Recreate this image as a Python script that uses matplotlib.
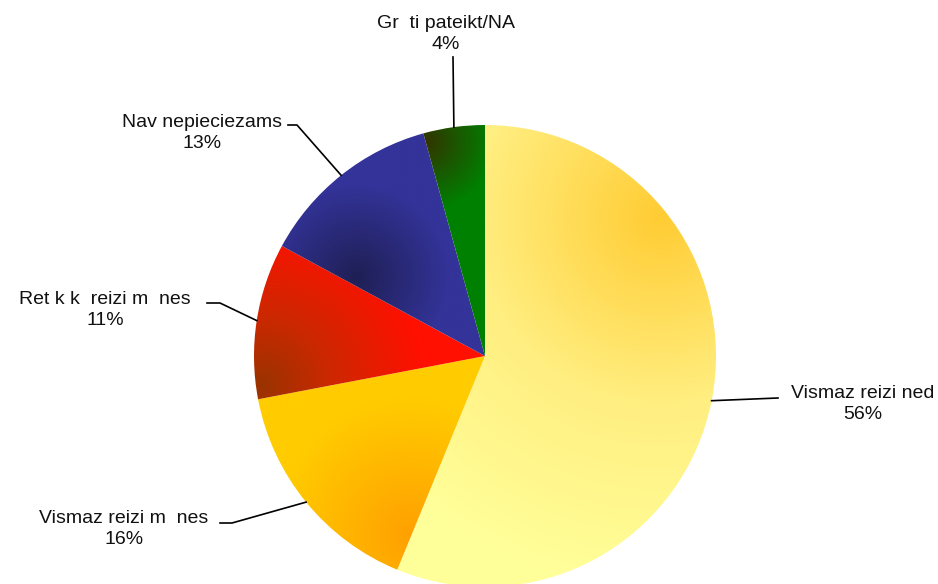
import numpy as np
import matplotlib
matplotlib.use("Agg")
from matplotlib import pyplot as plt
from matplotlib.colors import to_rgb

# data (share of answers, %)
labels = ["Vismaz reizi ned", "Vismaz reizi m  nes", "Ret k k  reizi m  nes",
          "Nav nepieciezams", "Gr  ti pateikt/NA"]
values = [56.2, 15.8, 10.9, 12.8, 4.3]
pct_text = ["56%", "16%", "11%", "13%", "4%"]

# label placement in pixels (x, y of first line from top)
label_pos = [(863, 392), (124, 517), (105, 298), (202, 121), (446, 22)]
# elbow of leader line (pixel x, y from top)
leader_elbow = [[(778, 398)], [(220, 523), (232, 523)], [(207, 303), (220, 303)],
                [(288, 125), (297, 125)], [(453, 57)]]

# gradient per slice: centre (pie units), stops as (dist, colour)
grads = [
    ((0.76, 0.60), [(0.0, "#FFCC33"), (0.8, "#FFEE80"), (1.6, "#FFFF99")]),
    ((-0.32, -0.78), [(0.0, "#FFA000"), (0.6, "#FFCC00")]),
    ((-0.97, -0.13), [(0.0, "#993300"), (0.3, "#CC2800"), (0.7, "#FF1000")]),
    ((-0.555, 0.342), [(0.0, "#1F1F55"), (0.4, "#333399")]),
    ((-0.26, 0.93), [(0.0, "#333300"), (0.3, "#008000")]),
]

W, H = 938, 584
cx, cy, R = 485, H - 356, 231

fig = plt.figure(figsize=(W / 100, H / 100), dpi=100)
ax = fig.add_axes([0, 0, 1, 1])
plt.rcParams['font.family'] = ['Liberation Sans', 'DejaVu Sans']

wedges, _ = ax.pie(values, radius=R, center=(cx, cy), startangle=90,
                   counterclock=False, wedgeprops=dict(linewidth=0))

n = 500
xs = np.linspace(-1.02, 1.02, n)
X, Y = np.meshgrid(xs, xs[::-1])
for w, (c, stops) in zip(wedges, grads):
    w.set_facecolor("none")
    d = np.hypot(X - c[0], Y - c[1])
    pos = [s[0] for s in stops]
    cols = np.array([to_rgb(s[1]) for s in stops])
    img = np.dstack([np.interp(d, pos, cols[:, k]) for k in range(3)])
    im = ax.imshow(img, extent=(cx - 1.02 * R, cx + 1.02 * R, cy - 1.02 * R, cy + 1.02 * R),
                   interpolation="bilinear", zorder=1)
    im.set_clip_path(w)

for w, lab, pc, (tx, ty), elbow in zip(wedges, labels, pct_text, label_pos, leader_elbow):
    mid = np.deg2rad((w.theta1 + w.theta2) / 2)
    ex, ey = cx + R * np.cos(mid), cy + R * np.sin(mid)
    pts = [(ex, ey)] + [(px, H - py) for px, py in elbow[::-1]]
    ax.plot([p[0] for p in pts], [p[1] for p in pts], color="black", lw=1.2, zorder=3)
    # two-line block, centre sits between the lines
    ax.text(tx, H - ty - 12, lab + "\n" + pc, ha="center", va="center", fontsize=14,
            linespacing=1.25, color="#111111")

ax.set_xlim(0, W)
ax.set_ylim(0, H)
ax.set_aspect("auto")
ax.axis("off")
fig.savefig("out.png", dpi=100)
